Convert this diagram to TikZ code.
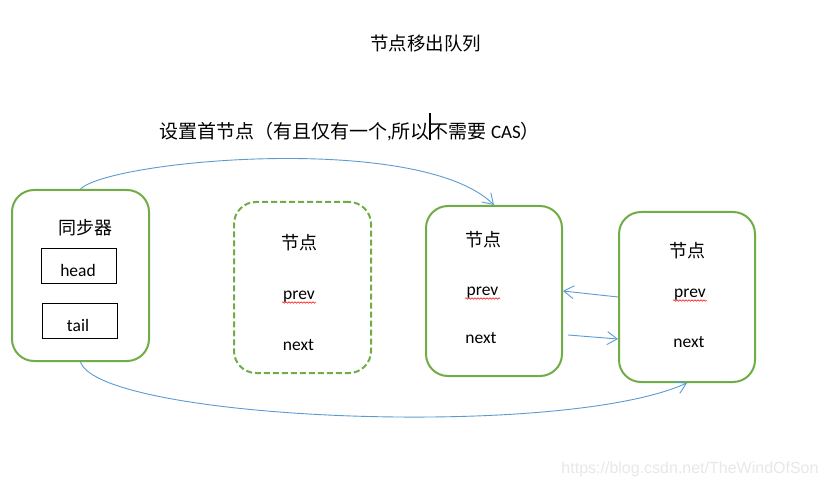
\documentclass[tikz,border=0pt]{standalone}
\usepackage{fontspec}
\setmainfont{Carlito}
\newfontfamily\cjk{Noto Sans CJK SC}
\newfontfamily\wmfont{Liberation Sans}
\usetikzlibrary{arrows.meta,decorations.pathmorphing}
\definecolor{boxgreen}{HTML}{70AD47}
\definecolor{arrblue}{HTML}{5B9BD5}
\definecolor{wmgray}{HTML}{E8E8E8}
\begin{document}
\begin{tikzpicture}[x=1pt,y=-1pt,
  gbox/.style={draw=boxgreen, line width=2pt, rounded corners=22pt, inner sep=0pt},
  txt/.style={font=\fontsize{17.5}{20}\selectfont, inner sep=0pt, anchor=base},
  cjktxt/.style={font=\fontsize{18}{20}\selectfont\cjk, inner sep=0pt},
  arr/.style={draw=arrblue, line width=0.9pt, -{Straight Barb[length=10pt,width=13pt]}},
  squig/.style={draw=red, line width=0.5pt, decorate, decoration={snake, amplitude=0.8pt, segment length=3pt}},
  smallbox/.style={draw=black, line width=1pt, minimum width=75pt, minimum height=35pt, inner sep=0pt}
]
\useasboundingbox[fill=white] (0,0) rectangle (826,486);

% titles
\node[font=\fontsize{18.5}{20}\selectfont\cjk, inner sep=0pt] (title) at (425.5,43.5) {节点移出队列};
\node[font=\fontsize{19}{20}\selectfont, inner sep=0pt] (sub) at (349.5,127)
  {{\cjk 设置首节点（有且仅有一个},{\cjk 所以\hbox to 0pt{\hss\rule[-1pt]{1.8pt}{27pt}\hss}不需要} CAS{\cjk ）}};

% boxes
\node[gbox, minimum width=137pt, minimum height=171pt] (sync) at (80.5,275.5) {};
\node[gbox, dashed, dash pattern=on 6pt off 3pt, minimum width=137pt, minimum height=171pt] (n2) at (302.5,287.5) {};
\node[gbox, minimum width=136pt, minimum height=170pt] (n3) at (494,291) {};
\node[gbox, minimum width=136pt, minimum height=170pt] (n4) at (687,297) {};

% sync contents
\node[cjktxt] (synclbl) at (85,228) {同步器};
\node[smallbox] (headbox) at (78.5,265.5) {};
\node[smallbox] (tailbox) at (79.5,320.5) {};
\node[txt] (head) at (78,276) {head};
\node[txt] (tail) at (78,331) {tail};

% node 2 (dashed)
\node[cjktxt] (l2) at (299.5,242.5) {节点};
\node[txt] (p2) at (299,299) {prev};
\node[txt] (x2) at (298.5,350) {next};
\draw[squig] (282,302.5) -- (316,302.5);

% node 3
\node[cjktxt] (l3) at (483,240) {节点};
\node[txt] (p3) at (482.5,295) {prev};
\node[txt] (x3) at (481,343) {next};
\draw[squig] (465,298.5) -- (500,298.5);

% node 4
\node[cjktxt] (l4) at (687,251) {节点};
\node[txt] (p4) at (690,297) {prev};
\node[txt] (x4) at (689,347) {next};
\draw[squig] (673,300.5) -- (707,300.5);

% connectors
\draw[arr] (sync.north) .. controls (110,160) and (420,132) .. (n3.north);
\draw[arr] (sync.south) .. controls (100,420) and (560,440) .. (n4.south);
\draw[arr] (n4.west) -- (n3.east);
\draw[arr] ([shift={(5,44)}]n3.east) -- ([shift={(0,42)}]n4.west);

% watermark
\node[font=\fontsize{16}{18}\selectfont\wmfont, text=wmgray, inner sep=0pt] (wm) at (690,469) {https://blog.csdn.net/TheWindOfSon};
\end{tikzpicture}
\end{document}
